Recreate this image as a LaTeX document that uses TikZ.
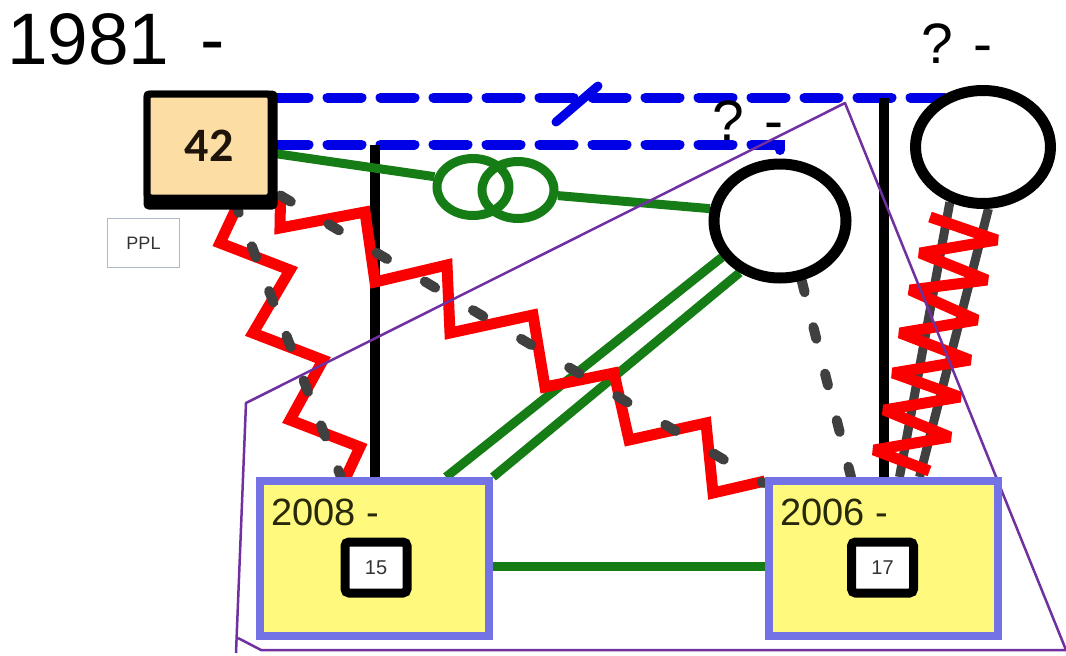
\documentclass[tikz,border=0pt]{standalone}
\usepackage{fontspec}
\setmainfont{Liberation Sans}
\newfontfamily\carl{Carlito}
\usetikzlibrary{calc,shapes.geometric}
\pgfdeclarelayer{bg}
\pgfsetlayers{bg,main}
\definecolor{bl}{RGB}{0,0,230}
\definecolor{gr}{RGB}{22,125,22}
\definecolor{rd}{RGB}{250,0,0}
\definecolor{gy}{RGB}{64,64,64}
\definecolor{pu}{RGB}{112,48,160}
\definecolor{bx}{RGB}{115,115,230}
\definecolor{ye}{RGB}{255,250,125}
\definecolor{og}{RGB}{252,222,165}
\definecolor{pplc}{RGB}{175,185,200}
\begin{document}
\begin{tikzpicture}[x=1pt,y=-1pt,
  bluedash/.style={bl,line width=10pt,line cap=round,dash pattern=on 34pt off 19pt},
  grayd/.style={gy,line width=10pt,line cap=round,dash pattern=on 12pt off 36pt},
  redzz/.style={rd,line width=11pt,line join=miter,miter limit=3},
  grn/.style={gr,line width=9pt},
  blk/.style={black,line width=10pt},
  ring/.style={ellipse,draw=black,line width=11pt,fill=white,inner sep=0pt},
  gring/.style={ellipse,draw=gr,line width=9pt,inner sep=0pt,minimum width=72pt,minimum height=57pt},
  yearbox/.style={rectangle,draw=bx,fill=ye,line width=8pt,minimum width=229pt,minimum height=155pt,inner sep=0pt},
  numbox/.style={rectangle,draw=black,fill=white,line width=9pt,rounded corners=4pt,minimum width=62pt,minimum height=51pt,inner sep=0pt,font=\fontsize{20}{20}\selectfont,text=black!80},
  lbl/.style={inner sep=0pt,anchor=base west},
  purp/.style={pu,line width=2.5pt,line join=round}]
\useasboundingbox (0,0) rectangle (1066,656);

% nodes
\node[rectangle,draw=black,line width=7pt,fill=og,rounded corners=4pt,minimum width=124pt,minimum height=104pt,inner sep=0pt,text={rgb,255:red,30;green,20;blue,10},font=\carl\bfseries\fontsize{48}{48}\selectfont] (n42) at (209,146) {42};
\node[rectangle,draw=pplc,line width=1.2pt,fill=white,minimum width=72pt,minimum height=49pt,inner sep=0pt,font=\fontsize{18}{18}\selectfont,text=black!80] (ppl) at (143.5,243) {PPL};
\node[ring,minimum width=132pt,minimum height=114pt] (c1) at (780,221) {};
\node[ring,minimum width=135pt,minimum height=113pt] (c2) at (983,147) {};
\node[gring] (r1) at (473,187) {};
\node[gring] (r2) at (518,190) {};
\node[yearbox] (b2008) at (374.5,558.5) {};
\node[yearbox] (b2006) at (883.5,558.5) {};
\node[numbox] (n15) at (376,567.5) {15};
\node[numbox] (n17) at (882.5,567.5) {17};
\node[lbl,font=\fontsize{38}{38}\selectfont,text={rgb,255:red,40;green,40;blue,10}] (t2008) at (271,525) {2008 -};
\node[lbl,font=\fontsize{38}{38}\selectfont,text={rgb,255:red,40;green,40;blue,10}] (t2006) at (780,525) {2006 -};
\node[lbl,font=\fontsize{73}{73}\selectfont] (t1981) at (7,64) {1981\hspace{0.42em}-};
\node[lbl,font=\fontsize{57}{57}\selectfont] (tq1) at (921,63) {? -};
\node[lbl,font=\fontsize{57}{57}\selectfont] (tq2) at (712,140) {? -};

\begin{pgfonlayer}{bg}
\fill[white] (0,0) rectangle (1066,656);
% blue lines
\coordinate (bt) at ($(n42.north east)+(0,7)$);
\coordinate (bl1) at ($(n42.north east)+(0,54)$);
\draw[bluedash] (bt) -- (bt -| c2.center);
\draw[bluedash] (bl1) -- (bl1 -| c1.north) -- (c1.north);
\draw[bl,line width=9pt,line cap=round] (556,122) -- (598,86);
% black verticals
\draw[blk] (b2008.north) -- (b2008.north |- bl1);
\draw[blk] (b2006.north) -- (b2006.north |- bt);
% green
\draw[grn] ($(n42.north east)+(0,63)$) -- (r1.165);
\draw[grn] (r2.-8) -- (c1.170);
\draw[grn] (c1.212) -- ($(b2008.north west)+(190,0)$);
\draw[grn] (c1.232) -- (b2008.north east);
\draw[grn] ($(b2008.east)+(0,8)$) -- ($(b2006.west)+(0,8)$);
% red zigzag 1 + gray
\draw[redzz] ($(n42.south west)+(96,0)$) -- (220,243) -- (290,270) -- (253,333) -- (323,360) -- (290,420) -- (360,447) -- ($(b2008.north west)+(90,0)$);
\draw[grayd] ($(n42.south west)+(91,0)$) -- ($(b2008.north west)+(85,0)$);
% red zigzag 2 + gray
\draw[redzz] ($(n42.south east)+(6,-3)$) -- (280,228) -- (365,212) -- (375,282) -- (447,265) -- (450,333) -- (533,315) -- (545,387) -- (614,373) -- (629,440) -- (706,423) -- (713,493) -- ($(b2006.north west)+(0,4)$);
\draw[grayd,dash pattern=on 12pt off 44pt] ($(n42.south east)+(6,-6)$) -- ($(b2006.north west)+(-2,6)$);
% gray middle
\draw[grayd] (c1.290) -- ($(b2006.north west)+(86,0)$);
% right: gray pair then red zigzag
\draw[gy,line width=9pt] (c2.239) -- ($(b2006.north)+(16,0)$);
\draw[gy,line width=9pt] (c2.275) -- ($(b2006.north)+(36,0)$);
\draw[redzz,miter limit=2] ($(c2.south)+(-53,8)$) -- (997,240) -- (920,253) -- (987,280) -- (910,290) -- (977,320) -- (900,333) -- (970,360) -- (893,373) -- (960,397) -- (884,410) -- (950,437) -- (874,450) -- ($(b2006.north)+(46,-6)$);
% shadow of 42 box
\fill[black,rounded corners=5pt] (n42.north west) rectangle ($(n42.south east)+(3,8)$);
% purple polygon
\draw[purp] (238,638) -- (261,650) -- (1066,650) -- (845,103) -- (246,403) -- (236,653);
\end{pgfonlayer}
\end{tikzpicture}
\end{document}
